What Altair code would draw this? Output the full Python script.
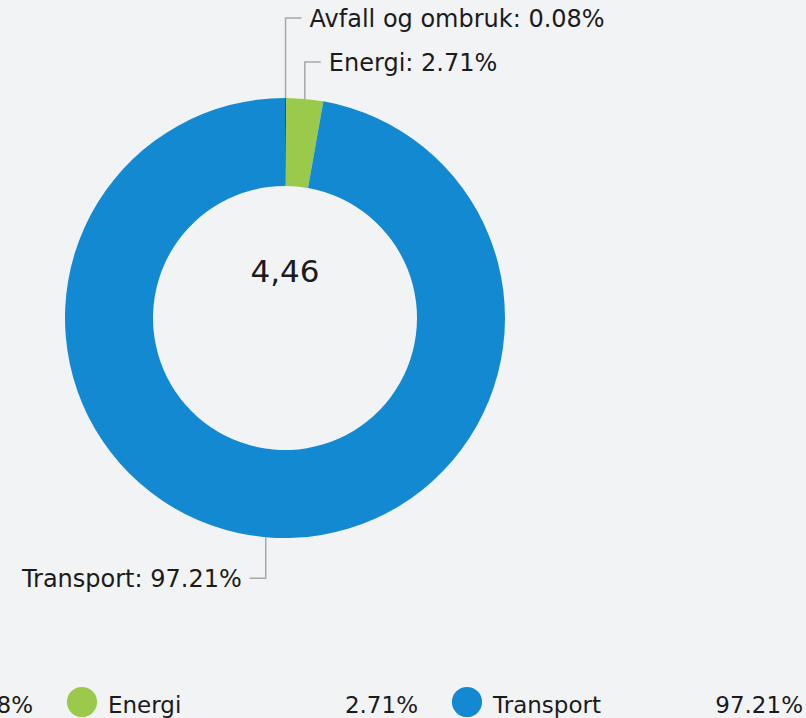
import altair as alt
import pandas as pd
import numpy as np

# ---- data ----
categories = ["Avfall og ombruk", "Energi", "Transport"]
shares = [0.08, 2.71, 97.21]
colors = ["#2b4a6c", "#9bc94b", "#1289d0"]
center_label = "4,46"

# ---- layout / style ----
W, H = 806, 718
CX, CY = 285, 318
R_OUT, R_IN = 220, 132
BG = "#f2f3f5"
FONT = "DejaVu Sans"
TXT = "#1b1b1b"
LINE = "#a8a8a8"
FS = 24
LEG_FS = 23
TOP_LABEL_Y, LABEL_STEP = 18, 44
ELBOW = 16
GAP = 8
LEGEND_X0, LEGEND_STEP, LEGEND_Y = -303, 385, 702

df = pd.DataFrame({"category": categories, "share": shares, "order": list(range(len(categories)))})
sh = np.array(shares, dtype=float)
start = np.cumsum(sh) - sh
mid = (start + sh / 2) / sh.sum() * 2 * np.pi
df["x0"] = CX + R_OUT * np.sin(mid)
df["y0"] = CY - R_OUT * np.cos(mid)
df["side"] = np.where(df["x0"] >= CX, 1, -1)

label_y = []
k = 0
for side, y0 in zip(df["side"], df["y0"]):
    if side > 0:
        label_y.append(TOP_LABEL_Y + k * LABEL_STEP)
        k += 1
    else:
        label_y.append(y0 + 41)
df["ly"] = label_y
df["x1"] = df["x0"] + df["side"] * ELBOW
df["tx"] = df["x1"] + df["side"] * GAP
df["label"] = [f"{c}: {s:.2f}%" for c, s in zip(categories, shares)]

lines = []
for _, r in df.iterrows():
    lines.append({"category": r["category"], "i": 0, "x": r["x0"], "y": r["y0"]})
    lines.append({"category": r["category"], "i": 1, "x": r["x0"], "y": r["ly"]})
    lines.append({"category": r["category"], "i": 2, "x": r["x1"], "y": r["ly"]})
lines = pd.DataFrame(lines)

leg = pd.DataFrame({
    "category": categories,
    "value": [f"{s:.2f}%" for s in shares],
})
leg["cx"] = [LEGEND_X0 + i * LEGEND_STEP for i in range(len(categories))]
leg["lx"] = leg["cx"] + 26
leg["vx"] = leg["cx"] + 336
leg["cy"] = LEGEND_Y
leg["ty"] = LEGEND_Y + 11

xs = alt.Scale(domain=[0, W], nice=False, zero=False)
ys = alt.Scale(domain=[0, H], nice=False, zero=False, reverse=True)
cs = alt.Scale(domain=categories, range=colors)

arc = alt.Chart(df).mark_arc(radius=R_OUT, radius2=R_IN, strokeWidth=0).encode(
    theta=alt.Theta("share:Q", stack=True),
    order=alt.Order("order:Q"),
    color=alt.Color("category:N", scale=cs, legend=None),
    x=alt.value(CX),
    y=alt.value(CY),
)

leader = alt.Chart(lines).mark_line(color=LINE, strokeWidth=1.5).encode(
    x=alt.X("x:Q", scale=xs, axis=None),
    y=alt.Y("y:Q", scale=ys, axis=None),
    detail="category:N",
    order="i:Q",
)

right_labels = alt.Chart(df[df["side"] > 0]).mark_text(
    align="left", baseline="middle", font=FONT, fontSize=FS, color=TXT, dy=2
).encode(
    x=alt.X("tx:Q", scale=xs, axis=None),
    y=alt.Y("ly:Q", scale=ys, axis=None),
    text="label:N",
)
left_labels = alt.Chart(df[df["side"] < 0]).mark_text(
    align="right", baseline="middle", font=FONT, fontSize=FS, color=TXT, dy=2
).encode(
    x=alt.X("tx:Q", scale=xs, axis=None),
    y=alt.Y("ly:Q", scale=ys, axis=None),
    text="label:N",
)

center = alt.Chart(pd.DataFrame({"t": [center_label]})).mark_text(
    align="center", baseline="alphabetic", font=FONT, fontSize=31, color=TXT
).encode(x=alt.value(CX), y=alt.value(CY - 36), text="t:N")

leg_dots = alt.Chart(leg).mark_circle(size=np.pi * 17 * 17, opacity=1).encode(
    x=alt.X("cx:Q", scale=xs, axis=None),
    y=alt.Y("cy:Q", scale=ys, axis=None),
    color=alt.Color("category:N", scale=cs, legend=None),
)
leg_names = alt.Chart(leg).mark_text(
    align="left", baseline="alphabetic", font=FONT, fontSize=LEG_FS, color=TXT
).encode(
    x=alt.X("lx:Q", scale=xs, axis=None),
    y=alt.Y("ty:Q", scale=ys, axis=None),
    text="category:N",
)
leg_vals = alt.Chart(leg).mark_text(
    align="right", baseline="alphabetic", font=FONT, fontSize=LEG_FS, color=TXT
).encode(
    x=alt.X("vx:Q", scale=xs, axis=None),
    y=alt.Y("ty:Q", scale=ys, axis=None),
    text="value:N",
)

chart = alt.layer(
    arc, leader, right_labels, left_labels, center, leg_dots, leg_names, leg_vals
).properties(
    width=W, height=H, background=BG, padding=0,
    autosize=alt.AutoSizeParams(type="none"),
).configure_view(stroke=None)

chart.save("out.html", embed_options={"renderer": "svg", "actions": False})
